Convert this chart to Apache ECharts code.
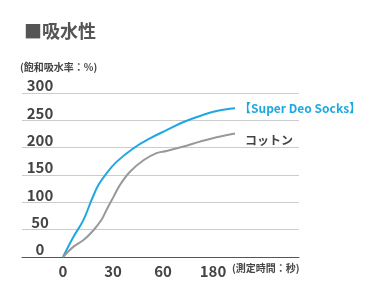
<!DOCTYPE html>
<html><head><meta charset="utf-8">
<script src="https://cdn.jsdelivr.net/npm/echarts@6/dist/echarts.min.js"></script>
<style>html,body{margin:0;padding:0;background:#fff}#c{width:367px;height:293px}</style>
</head><body><div id="c"></div>
<script>
var titleText = '■吸水性';
var yName = '(飽和吸水率：%)';
var xName = '(測定時間：秒)';
var xTickLabels = ['0', '30', '60', '180'];
var yTicks = [0, 50, 100, 150, 200, 250, 300];
var seriesNames = ['【Super Deo Socks】', 'コットン'];
// x = position along the time axis (0→0s, 1→30s, 2→60s, 3→180s)
var deoX = [0, 0.21, 0.41, 0.57, 0.71, 0.87, 1.07, 1.41, 1.74, 2.07, 2.41, 2.74, 3.07, 3.44];
var deoY = [0, 37, 68, 104, 132, 153, 174, 199, 217, 232, 247, 258, 267, 272];
var cotX = [0, 0.21, 0.41, 0.61, 0.77, 0.87, 1.01, 1.14, 1.34, 1.61, 1.87, 2.07, 2.41, 2.74, 3.07, 3.44];
var cotY = [0, 19, 31, 49, 68, 86, 110, 132, 156, 177, 190, 194, 202, 211, 219, 226];

function pairs(xs, ys) { return xs.map(function (x, i) { return [x, ys[i]]; }); }
var font = '"Noto Sans CJK JP", "Noto Sans", sans-serif';
var chart = echarts.init(document.getElementById('c'), null, {renderer: 'canvas'});
chart.setOption({
  animation: false,
  backgroundColor: '#fff',
  title: {text: titleText, left: 19, top: 17, textStyle: {fontFamily: font, fontSize: 18, fontWeight: 'bold', color: '#555'}},
  grid: {left: 22, right: 68, top: 93, bottom: 36},
  xAxis: {
    type: 'value', min: -0.82, max: 4.72, interval: 1,
    axisLine: {show: true, lineStyle: {color: '#555', width: 1}},
    axisTick: {show: false}, splitLine: {show: false},
    axisLabel: {
      margin: 7, hideOverlap: false,
      fontFamily: font, fontSize: 15, fontWeight: 'bold', color: '#444',
      customValues: [0, 1, 2, 3],
      formatter: function (v) { var i = Math.round(v); return xTickLabels[i] !== undefined ? xTickLabels[i] : ''; }
    }
  },
  yAxis: {
    type: 'value', min: yTicks[0], max: yTicks[yTicks.length - 1], interval: 50,
    axisLine: {show: false}, axisTick: {show: false},
    splitLine: {show: true, lineStyle: {color: '#ccc', width: 1}},
    axisLabel: {inside: true, align: 'center', verticalAlign: 'bottom', margin: 18, padding: [0, 0, 0, 0],
      fontFamily: font, fontSize: 15, fontWeight: 'bold', color: '#444'}
  },
  graphic: [
    {type: 'text', left: 20, top: 62, style: {text: yName, font: 'bold 10px ' + font, fill: '#444'}},
    {type: 'text', left: 232, top: 263, style: {text: xName, font: 'bold 10px ' + font, fill: '#444'}}
  ],
  series: [
    {name: seriesNames[0], type: 'line', data: pairs(deoX, deoY), smooth: 0.4, symbol: 'none',
      lineStyle: {color: '#1fa8e0', width: 2}, itemStyle: {color: '#1fa8e0'},
      endLabel: {show: true, formatter: '{a}', distance: 4, fontFamily: font, fontSize: 12, fontWeight: 'bold', color: '#1fa8e0'}},
    {name: seriesNames[1], type: 'line', data: pairs(cotX, cotY), smooth: 0.4, symbol: 'none',
      lineStyle: {color: '#999', width: 2}, itemStyle: {color: '#999'},
      endLabel: {show: true, formatter: '{a}', distance: 10, offset: [0, 7], fontFamily: font, fontSize: 12, fontWeight: 'bold', color: '#444'}}
  ]
});
</script></body></html>
